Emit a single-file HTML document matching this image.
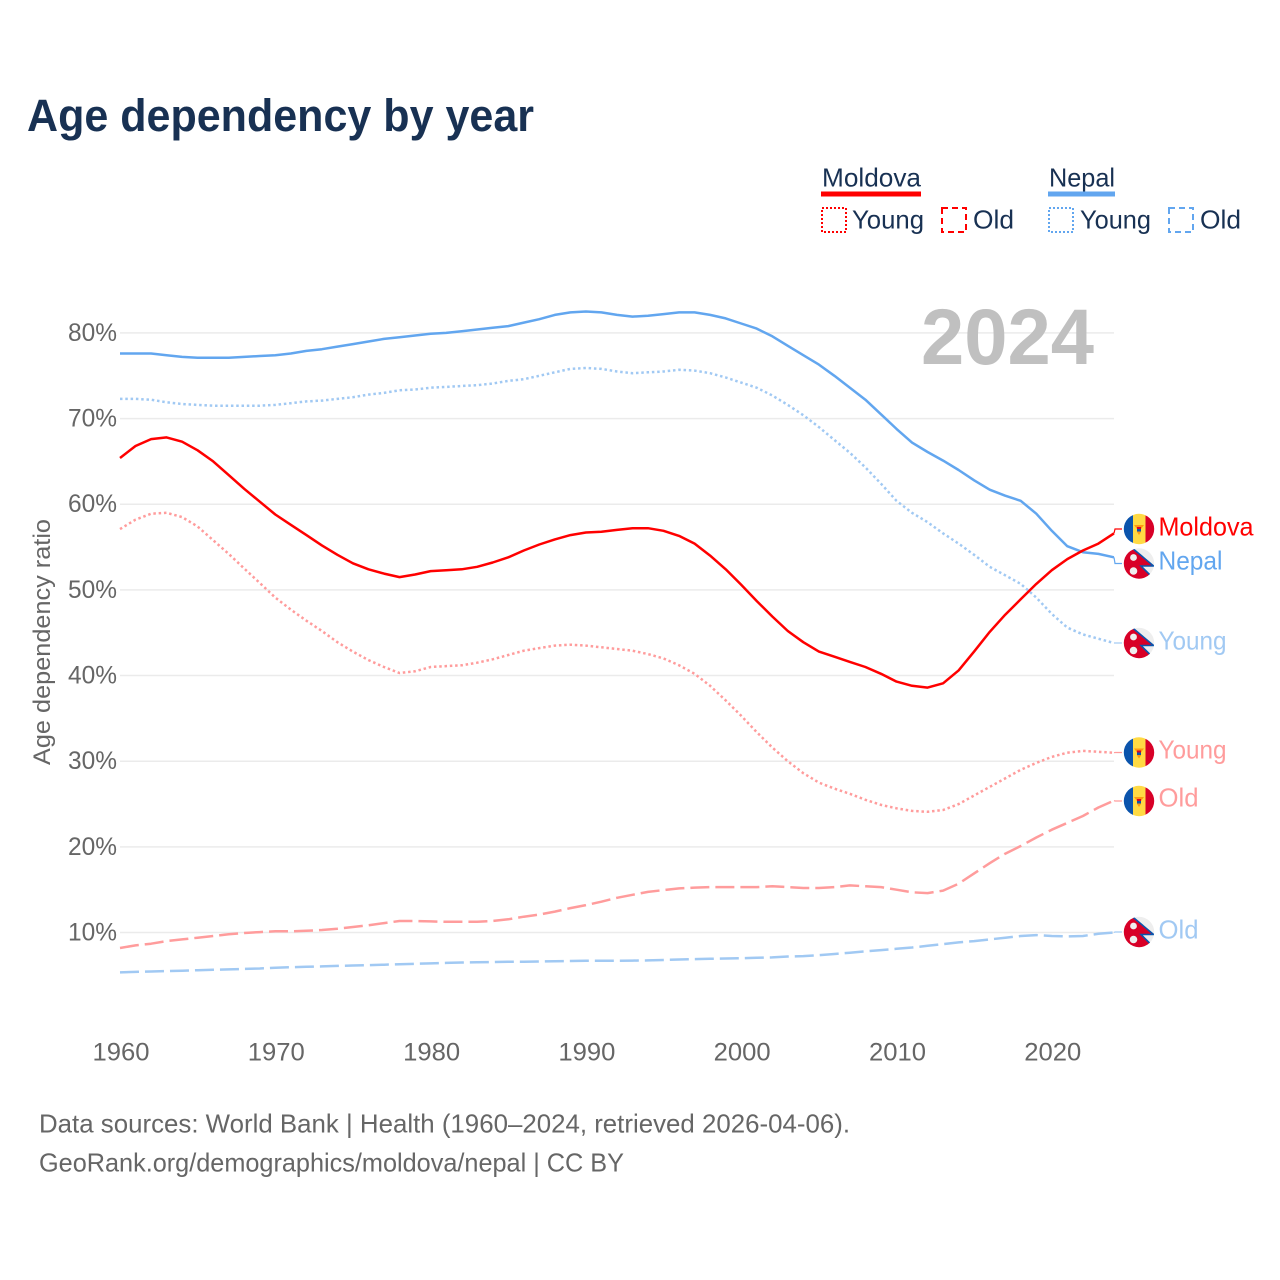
<!DOCTYPE html>
<html lang="en">
<head>
<meta charset="utf-8">
<title>Age dependency by year</title>
<style>
html,body{margin:0;padding:0;background:#fff;}
svg{display:block;}
text{font-family:"Liberation Sans",sans-serif;}
</style>
</head>
<body>
<svg id="chart" xmlns="http://www.w3.org/2000/svg" width="1280" height="1280" viewBox="0 0 1280 1280">
<defs>
<clipPath id="flag-clip"><circle cx="0" cy="0" r="15.2"/></clipPath>
<g id="flag-moldova" clip-path="url(#flag-clip)">
<rect x="-16" y="-16" width="10" height="32" fill="#0b54ac"/>
<rect x="-6" y="-16" width="12.5" height="32" fill="#ffda44"/>
<rect x="6.5" y="-16" width="10" height="32" fill="#d80027"/>
<path d="M-5 -4 L5 -4 L2 0 L2 3 L0 6 L-2 3 L-2 0 Z" fill="#ff9811"/>
<rect x="-2" y="-2" width="4" height="2" fill="#d80027"/>
<rect x="-2" y="0" width="4" height="2.5" fill="#0b54ac"/>
</g>
<g id="flag-nepal" clip-path="url(#flag-clip)">
<rect x="-16" y="-16" width="32" height="32" fill="#eeeeee"/>
<path d="M-16 -16 L-7 -16 L14 2 L1 2 L14 15 L14 16 L-16 16 Z" fill="#d80027"/>
<path d="M-8 -16.5 L14.5 2.5 L2 2.5 L14.5 15" fill="none" stroke="#0b54ac" stroke-width="1.6"/>
<circle cx="-5.5" cy="-6" r="3.4" fill="#eeeeee"/>
<circle cx="-5.5" cy="7.5" r="3.8" fill="#eeeeee"/>
</g>
</defs>

<text x="27" y="131" font-size="45" font-weight="700" fill="#183153" textLength="507" lengthAdjust="spacingAndGlyphs">Age dependency by year</text>

<g id="grid"></g>
<g id="ylabels"></g>
<g id="xlabels"></g>
<text transform="translate(50,765) rotate(-90)" x="0" y="0" font-size="24" fill="#666666" textLength="246" lengthAdjust="spacingAndGlyphs">Age dependency ratio</text>
<text x="921" y="364" font-size="79" font-weight="700" fill="#c0c0c0" textLength="173" lengthAdjust="spacingAndGlyphs">2024</text>

<g id="series"></g>
<g id="ends"></g>

<g>
<text x="822" y="186.5" font-size="26" fill="#183153" textLength="99" lengthAdjust="spacingAndGlyphs">Moldova</text>
<rect x="821" y="191.5" width="100" height="5" fill="#ff0000"/>
<rect x="822" y="208" width="24" height="24" fill="none" stroke="#ff0000" stroke-width="2" stroke-dasharray="2 2"/>
<text x="852" y="228.5" font-size="26" fill="#183153" textLength="72" lengthAdjust="spacingAndGlyphs">Young</text>
<rect x="942" y="208" width="24" height="24" fill="none" stroke="#ff0000" stroke-width="2" stroke-dasharray="6 4"/>
<text x="973" y="228.5" font-size="26" fill="#183153" textLength="41" lengthAdjust="spacingAndGlyphs">Old</text>
<text x="1049" y="186.5" font-size="26" fill="#183153" textLength="66" lengthAdjust="spacingAndGlyphs">Nepal</text>
<rect x="1048" y="191.5" width="67" height="5" fill="#62a6ef"/>
<rect x="1049" y="208" width="24" height="24" fill="none" stroke="#62a6ef" stroke-width="2" stroke-dasharray="2 2"/>
<text x="1080" y="228.5" font-size="26" fill="#183153" textLength="71" lengthAdjust="spacingAndGlyphs">Young</text>
<rect x="1169" y="208" width="24" height="24" fill="none" stroke="#62a6ef" stroke-width="2" stroke-dasharray="6 4"/>
<text x="1200" y="228.5" font-size="26" fill="#183153" textLength="41" lengthAdjust="spacingAndGlyphs">Old</text>
</g>

<text x="39" y="1132.5" font-size="26" fill="#666666" textLength="811" lengthAdjust="spacingAndGlyphs">Data sources: World Bank | Health (1960–2024, retrieved 2026-04-06).</text>
<text x="39" y="1171.5" font-size="26" fill="#666666" textLength="585" lengthAdjust="spacingAndGlyphs">GeoRank.org/demographics/moldova/nepal | CC BY</text>
</svg>

<script>
const startYear = 1960;
const xTicks = [1960, 1970, 1980, 1990, 2000, 2010, 2020];
const yTicks = [10, 20, 30, 40, 50, 60, 70, 80];
const moldovaTotal = [65.4,66.8,67.6,67.8,67.3,66.3,65.0,63.4,61.8,60.3,58.8,57.6,56.4,55.2,54.1,53.1,52.4,51.9,51.5,51.8,52.2,52.3,52.4,52.7,53.2,53.8,54.6,55.3,55.9,56.4,56.7,56.8,57.0,57.2,57.2,56.9,56.3,55.4,54.0,52.4,50.6,48.7,46.9,45.2,43.9,42.8,42.2,41.6,41.0,40.2,39.3,38.8,38.6,39.1,40.6,42.8,45.1,47.1,48.9,50.7,52.3,53.6,54.6,55.4,56.6];
const moldovaYoung = [57.1,58.2,58.9,59.0,58.5,57.4,55.8,54.2,52.5,50.8,49.1,47.7,46.4,45.2,43.9,42.8,41.8,41.0,40.3,40.5,41.0,41.1,41.2,41.5,41.9,42.4,42.9,43.2,43.5,43.6,43.5,43.3,43.1,42.9,42.5,42.0,41.2,40.2,38.8,37.1,35.3,33.4,31.6,30.0,28.6,27.5,26.8,26.2,25.5,24.9,24.5,24.2,24.1,24.3,25.0,26.0,27.0,28.0,29.0,29.8,30.5,31.0,31.2,31.1,31.0];
const moldovaOld = [8.2,8.5,8.7,9.0,9.2,9.4,9.6,9.8,9.95,10.05,10.15,10.15,10.2,10.3,10.45,10.65,10.85,11.1,11.35,11.35,11.3,11.25,11.25,11.25,11.35,11.55,11.85,12.1,12.45,12.85,13.2,13.6,14.05,14.4,14.75,14.95,15.15,15.25,15.3,15.3,15.3,15.3,15.4,15.3,15.2,15.2,15.3,15.5,15.4,15.3,15.0,14.7,14.6,14.9,15.7,16.9,18.1,19.2,20.1,21.1,22.0,22.8,23.6,24.6,25.4];
const nepalTotal = [77.6,77.6,77.6,77.4,77.2,77.1,77.1,77.1,77.2,77.3,77.4,77.6,77.9,78.1,78.4,78.7,79.0,79.3,79.5,79.7,79.9,80.0,80.2,80.4,80.6,80.8,81.2,81.6,82.1,82.4,82.5,82.4,82.1,81.9,82.0,82.2,82.4,82.4,82.1,81.7,81.1,80.5,79.6,78.5,77.4,76.3,75.0,73.6,72.2,70.5,68.8,67.2,66.1,65.1,64.0,62.8,61.7,61.0,60.4,58.9,56.9,55.1,54.4,54.2,53.8];
const nepalYoung = [72.3,72.3,72.2,71.9,71.7,71.6,71.5,71.5,71.5,71.5,71.6,71.8,72.0,72.1,72.3,72.5,72.8,73.0,73.3,73.4,73.6,73.7,73.8,73.9,74.1,74.4,74.6,75.0,75.4,75.8,75.9,75.8,75.5,75.3,75.4,75.5,75.7,75.6,75.3,74.8,74.2,73.6,72.7,71.6,70.4,69.0,67.5,66.0,64.3,62.4,60.4,59.0,57.9,56.6,55.4,54.1,52.7,51.7,50.7,49.1,47.2,45.6,44.8,44.3,43.8];
const nepalOld = [5.35,5.4,5.45,5.5,5.55,5.6,5.65,5.7,5.75,5.8,5.9,5.95,6.0,6.05,6.1,6.15,6.2,6.25,6.3,6.35,6.4,6.45,6.5,6.52,6.55,6.58,6.6,6.62,6.65,6.68,6.7,6.7,6.7,6.72,6.75,6.8,6.85,6.9,6.93,6.97,7.0,7.05,7.1,7.2,7.25,7.35,7.5,7.65,7.8,7.95,8.1,8.25,8.45,8.65,8.85,9.0,9.2,9.4,9.6,9.7,9.6,9.55,9.6,9.85,10.0];

const NS = 'http://www.w3.org/2000/svg';
function xScale(year) { return 120 + (year - 1960) * 15.53; }
function yScale(value) { return 1018.2 - value * 8.566; }
function make(tag, parent, attrs, txt) {
  const el = document.createElementNS(NS, tag);
  for (const k in attrs) el.setAttribute(k, attrs[k]);
  if (txt !== undefined) el.textContent = txt;
  parent.appendChild(el);
  return el;
}

const gridG = document.getElementById('grid');
const yLabG = document.getElementById('ylabels');
const xLabG = document.getElementById('xlabels');
yTicks.forEach(function (t) {
  const line = make('line', gridG, {x1: 120, x2: 1114, y1: yScale(t), y2: yScale(t), stroke: '#ebebeb', 'stroke-width': 1.5});
  
  
  const lab = make('text', yLabG, {x: 117, y: yScale(t) + 8, 'text-anchor': 'end', 'font-size': 25, fill: '#666666', textLength: 49, lengthAdjust: 'spacingAndGlyphs'}, t + '%');
  
  
});
xTicks.forEach(function (t) {
  const lab = make('text', xLabG, {x: xScale(t) + 1, y: 1060.5, 'text-anchor': 'middle', 'font-size': 25, fill: '#666666', textLength: 57, lengthAdjust: 'spacingAndGlyphs'}, String(t));
  
  
});

const seriesG = document.getElementById('series');
const endsG = document.getElementById('ends');
const DOT = '2.5 2.8';
const DASH = '19 6';
const RED = '#ff0000';
const BLUE = '#62a6ef';
const PINK = '#ff9c9c';
const SKY = '#a1c9f3';

function drawSeries(name, values, color, dash, flag, labelText, labelY, labelW, connectY) {
  const pts = values.map(function (v, i) { return xScale(startYear + i).toFixed(1) + ',' + yScale(v).toFixed(1); });
  const path = make('polyline', seriesG, {points: pts.join(' '), fill: 'none', stroke: color, 'stroke-width': 2.5, 'stroke-linejoin': 'round'});
  if (dash) path.setAttribute('stroke-dasharray', dash);
  
  

  const lastY = yScale(values[values.length - 1]);
  const conn = make('polyline', endsG, {points: '1114,' + lastY.toFixed(1) + ' 1115,' + connectY + ' 1122,' + connectY, fill: 'none', stroke: color, 'stroke-width': 1.2});
  
  

  const f = make('use', endsG, {href: '#flag-' + flag, x: 1139, y: connectY});
  
  

  const t = make('text', endsG, {x: 1158.5, y: labelY, 'font-size': 26, fill: color, textLength: labelW, lengthAdjust: 'spacingAndGlyphs'}, labelText);
  
  
}

drawSeries('nepal-old', nepalOld, SKY, DASH, 'nepal', 'Old', 938.5, 40, 932);
drawSeries('moldova-old', moldovaOld, PINK, DASH, 'moldova', 'Old', 806.5, 40, 801);
drawSeries('nepal-young', nepalYoung, SKY, DOT, 'nepal', 'Young', 649.5, 68, 643);
drawSeries('moldova-young', moldovaYoung, PINK, DOT, 'moldova', 'Young', 758.5, 68, 752.5);
drawSeries('nepal-total', nepalTotal, BLUE, null, 'nepal', 'Nepal', 569.5, 64, 563.5);
drawSeries('moldova-total', moldovaTotal, RED, null, 'moldova', 'Moldova', 535.5, 95, 529);
</script>
</body>
</html>
